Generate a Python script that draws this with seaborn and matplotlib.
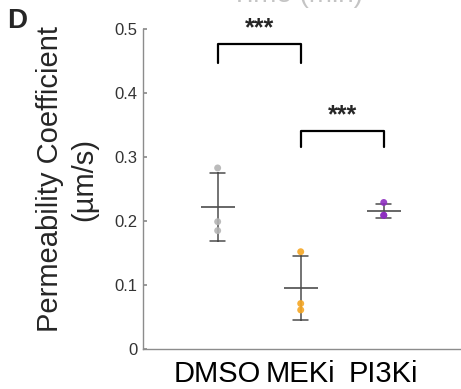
import matplotlib
matplotlib.use("Agg")
import matplotlib.pyplot as plt
import seaborn as sns
import pandas as pd

groups = ["DMSO", "MEKi", "PI3Ki"]
dmso = [0.283, 0.199, 0.185]
meki = [0.152, 0.071, 0.061]
pi3ki = [0.229, 0.209, 0.209]
colors = ["#b4b4b4", "#f5a623", "#8e2fc0"]
yticks = [0, 0.1, 0.2, 0.3, 0.4, 0.5]
ytick_labels = ["0", "0.1", "0.2", "0.3", "0.4", "0.5"]
# (group a, group b, bracket top, leg bottom, label)
comparisons = [("DMSO", "MEKi", 0.477, 0.447, "***"),
               ("MEKi", "PI3Ki", 0.341, 0.316, "***")]

df = pd.DataFrame({
    "group": ["DMSO"] * len(dmso) + ["MEKi"] * len(meki) + ["PI3Ki"] * len(pi3ki),
    "value": dmso + meki + pi3ki,
})

sns.set_theme(style="white")
plt.rcParams["font.family"] = ["Liberation Sans", "DejaVu Sans"]

fig = plt.figure(figsize=(4.61, 3.89), dpi=100)
ax = fig.add_axes([0.31, 0.103, 0.69, 0.822])

sns.pointplot(data=df, x="group", y="value", order=groups, errorbar="sd",
              capsize=0.18, markers="_", linestyles="none", color="#4d4d4d",
              markersize=25, markeredgewidth=1.2,
              err_kws={"linewidth": 1.1}, ax=ax)
sns.stripplot(data=df, x="group", y="value", order=groups, hue="group",
              palette=colors, jitter=False, size=5, alpha=0.9,
              legend=False, zorder=4, ax=ax)

for a, b, top, leg, label in comparisons:
    xa, xb = groups.index(a), groups.index(b)
    ax.plot([xa, xa, xb, xb], [leg, top, top, leg], color="black",
            linewidth=1.6, clip_on=False)
    ax.text((xa + xb) / 2, top + 0.006, label, ha="center", va="bottom",
            fontsize=18, fontweight="bold")

ax.set_xlim(-0.9, 2.93)
ax.set_ylim(0, 0.5)
ax.set_yticks(yticks)
ax.set_yticklabels(ytick_labels)
ax.set_xlabel("")
ax.set_ylabel("Permeability Coefficient\n(µm/s)", fontsize=21,
              linespacing=1.3)
ax.yaxis.set_label_coords(-0.14, 0.53)
ax.tick_params(axis="y", direction="in", length=3, color="#8c8c8c",
               labelsize=12, labelcolor="#333333", left=True, pad=4)
ax.tick_params(axis="x", length=0, labelsize=21, pad=8, labelcolor="black")
for side in ["top", "right"]:
    ax.spines[side].set_visible(False)
for side in ["left", "bottom"]:
    ax.spines[side].set_color("#8c8c8c")
    ax.spines[side].set_linewidth(1.0)

fig.text(0.015, 0.928, "D", fontsize=20, fontweight="bold", va="baseline")
fig.text(297 / 461, 0.994, "Time (min)", fontsize=20, color="#c4c4c4",
         ha="center", va="baseline")

fig.savefig("out.png", dpi=100)
